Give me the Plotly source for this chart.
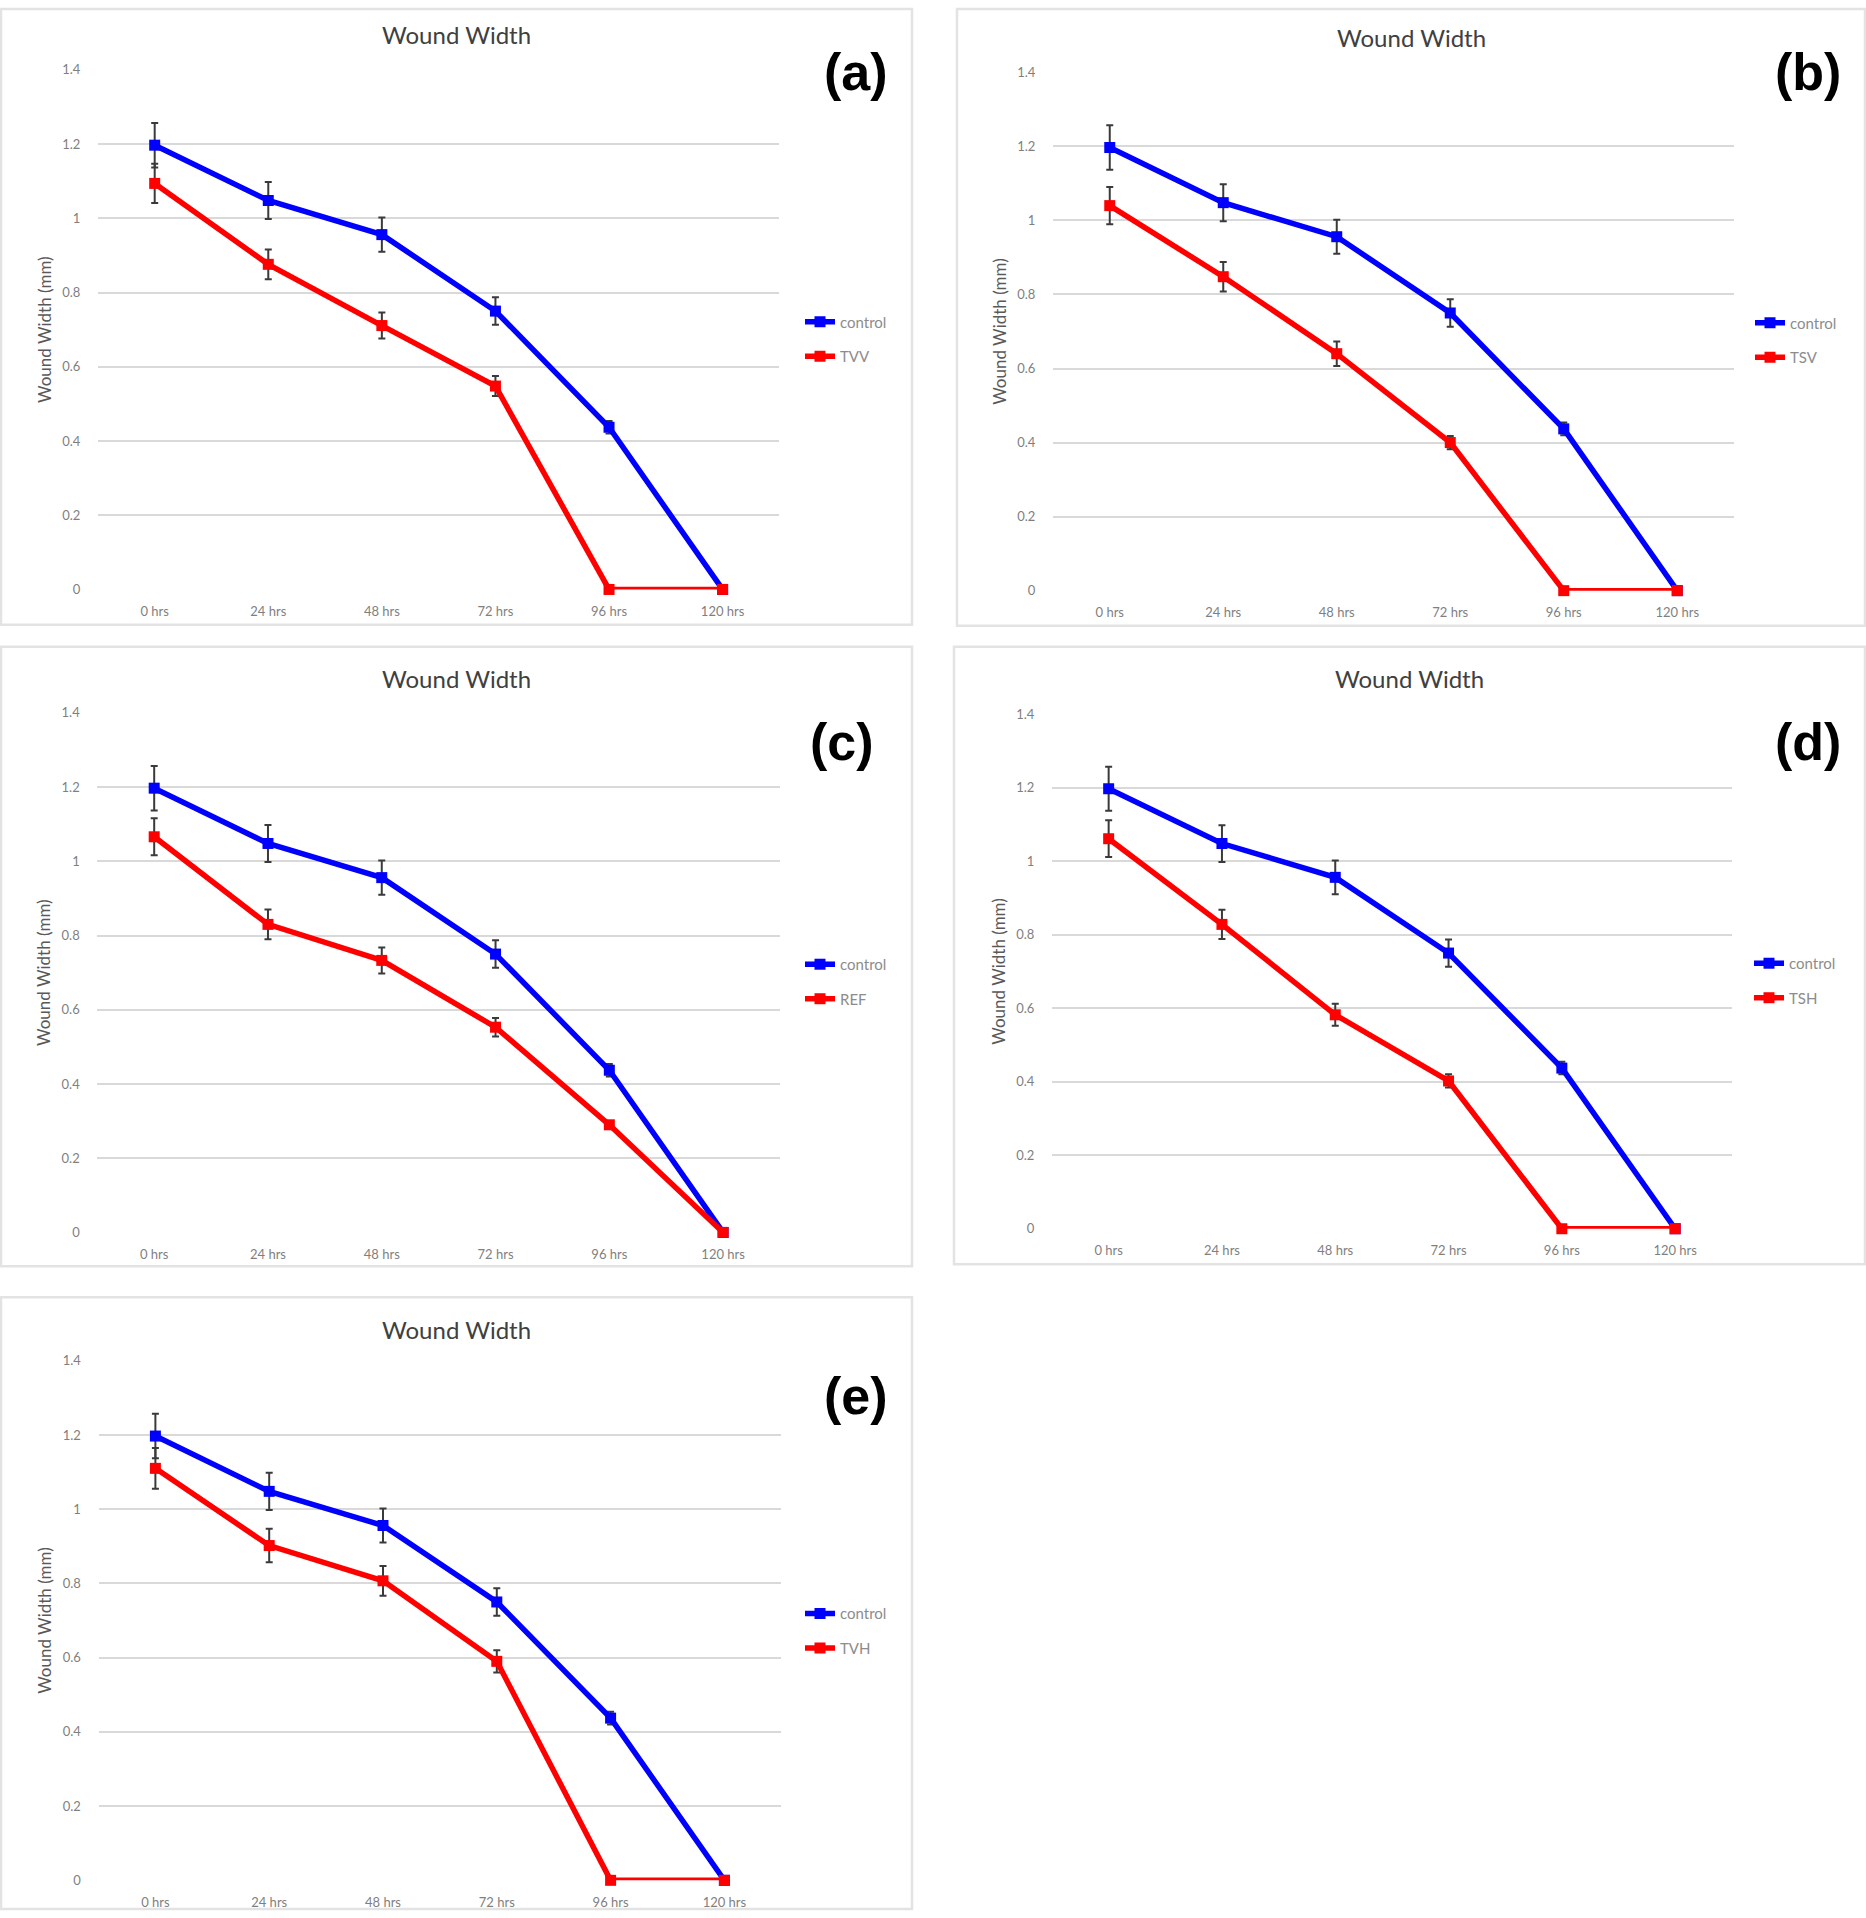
import plotly.graph_objects as go

W, H = 1866, 1918

hours = ["0 hrs", "24 hrs", "48 hrs", "72 hrs", "96 hrs", "120 hrs"]
y_ticks = [0, 0.2, 0.4, 0.6, 0.8, 1.0, 1.2, 1.4]

control_vals = [1.197, 1.048, 0.956, 0.750, 0.437, 0.0]
control_err = [0.060, 0.050, 0.046, 0.037, 0.017, 0.0]

tvv_vals = [1.094, 0.876, 0.711, 0.548, 0.0, 0.0]
tvv_err = [0.053, 0.040, 0.035, 0.027, 0.0, 0.0]

tsv_vals = [1.040, 0.848, 0.640, 0.400, 0.0, 0.0]
tsv_err = [0.050, 0.040, 0.033, 0.018, 0.0, 0.0]

ref_vals = [1.066, 0.830, 0.733, 0.553, 0.290, 0.0]
ref_err = [0.050, 0.040, 0.035, 0.025, 0.010, 0.0]

tsh_vals = [1.061, 0.828, 0.582, 0.402, 0.0, 0.0]
tsh_err = [0.050, 0.040, 0.030, 0.018, 0.0, 0.0]

tvh_vals = [1.110, 0.902, 0.807, 0.590, 0.0, 0.0]
tvh_err = [0.055, 0.045, 0.040, 0.030, 0.0, 0.0]

panels = [
    ("(a)", "TVV", tvv_vals, tvv_err),
    ("(b)", "TSV", tsv_vals, tsv_err),
    ("(c)", "REF", ref_vals, ref_err),
    ("(d)", "TSH", tsh_vals, tsh_err),
    ("(e)", "TVH", tvh_vals, tvh_err),
]

# geometry in pixels: plot areas (left, right, top, bottom)
plot_px = [
    (97.9, 779.4, 68.5, 588.6),
    (1053.0, 1734.0, 71.0, 589.8),
    (97.3, 780.0, 712.1, 1232.2),
    (1052.0, 1731.8, 713.4, 1228.5),
    (98.5, 781.3, 1360.6, 1880.7),
]
box_px = [
    (1, 912, 1, 624),
    (957, 1865, 4, 625),
    (1, 912, 646, 1266),
    (954, 1865, 646, 1264),
    (1, 912, 1297, 1917),
]
label_px = [(856, 71), (1808, 71), (842, 741), (1808, 741), (856, 1396)]
legend_px = [(800, 338), (1750, 339), (800, 981), (1749, 980), (800, 1631)]

# vertical calibration of the captured picture
Y_OFF, Y_SCALE = 6.6, 0.9926

def px(x):
    return x / W

def py(y):
    fy = (y - Y_OFF) / Y_SCALE
    fy = min(max(fy, 1.0), H - 1.0)
    return 1 - fy / H

fig = go.Figure()
shapes = []
annotations = []
BLUE = "#0000FF"
RED = "#FF0000"
GRID = "#D9D9D9"
TICK = "#7F7F7F"
FONT = "Lato"

for i, (lab, name, vals, errs) in enumerate(panels):
    n = "" if i == 0 else str(i + 1)
    xa = "x" + n
    ya = "y" + n
    lg = "legend" if i == 0 else "legend" + str(i + 1)
    for sname, sv, se, col in (("control", control_vals, control_err, BLUE),
                               (name, vals, errs, RED)):
        fig.add_trace(go.Scatter(
            x=hours, y=sv, mode="lines+markers", name=sname,
            line=dict(color=col, width=5.5),
            marker=dict(color=col, size=11, symbol="square"),
            error_y=dict(type="data", array=se, visible=True,
                         color="#3A3A3A", thickness=2, width=3.5),
            xaxis=xa, yaxis=ya, legend=lg, legendgroup=sname + str(i),
            cliponaxis=False,
        ))
    l, r, t, b = plot_px[i]
    fig.layout["xaxis" + n] = dict(
        domain=[px(l), px(r)], anchor=ya, range=[-0.5, 5.5],
        type="category", showgrid=False, zeroline=False, showline=False,
        tickfont=dict(size=13, color=TICK, family=FONT),
        ticks="outside", ticklen=10, tickcolor="rgba(0,0,0,0)",
        fixedrange=True,
    )
    fig.layout["yaxis" + n] = dict(
        domain=[py(b), py(t)], anchor=xa, range=[0, 1.4],
        tickvals=y_ticks, showgrid=True, gridcolor=GRID, gridwidth=1.5,
        zeroline=False, showline=False,
        tickfont=dict(size=13, color=TICK, family=FONT),
        ticks="outside", ticklen=14, tickcolor="rgba(0,0,0,0)",
        title=dict(text="Wound Width (mm)", font=dict(size=17, color="#595959", family=FONT),
                   standoff=6),
        fixedrange=True,
    )
    bx0, bx1, by0, by1 = box_px[i]
    shapes.append(dict(type="rect", xref="paper", yref="paper",
                       x0=px(bx0), x1=px(bx1), y0=py(by1), y1=py(by0),
                       line=dict(color="#E3E3E3", width=2.5), layer="below"))
    annotations.append(dict(
        text="Wound Width", xref="paper", yref="paper",
        x=px((bx0 + bx1) / 2), y=py(by0 + 32), xanchor="center", yanchor="middle",
        showarrow=False, font=dict(size=24, color="#404040", family=FONT)))
    lx, ly = label_px[i]
    annotations.append(dict(
        text="<b>" + lab + "</b>", xref="paper", yref="paper",
        x=px(lx), y=py(ly), xanchor="center", yanchor="middle",
        showarrow=False, font=dict(size=52, color="#000000", family="Liberation Sans")))
    gx, gy = legend_px[i]
    fig.layout[lg] = dict(
        x=px(gx), y=py(gy), xanchor="left", yanchor="middle",
        font=dict(size=15, color="#8C8C8C", family=FONT),
        bgcolor="rgba(0,0,0,0)", tracegroupgap=12, itemwidth=30,
        traceorder="grouped",
    )

fig.update_layout(
    width=W, height=H, margin=dict(l=0, r=0, t=0, b=0), autosize=False,
    paper_bgcolor="white", plot_bgcolor="white",
    shapes=shapes, annotations=annotations, showlegend=True,
)

fig.write_html(
    "out.html",
    config={"displayModeBar": False},
    post_script=(
        "document.documentElement.style.margin='0';"
        "document.body.style.margin='0';document.body.style.padding='0';"
        "var d=document.getElementById('{plot_id}');"
        "d.style.position='fixed';d.style.top='0px';d.style.left='0px';"
    ),
)
